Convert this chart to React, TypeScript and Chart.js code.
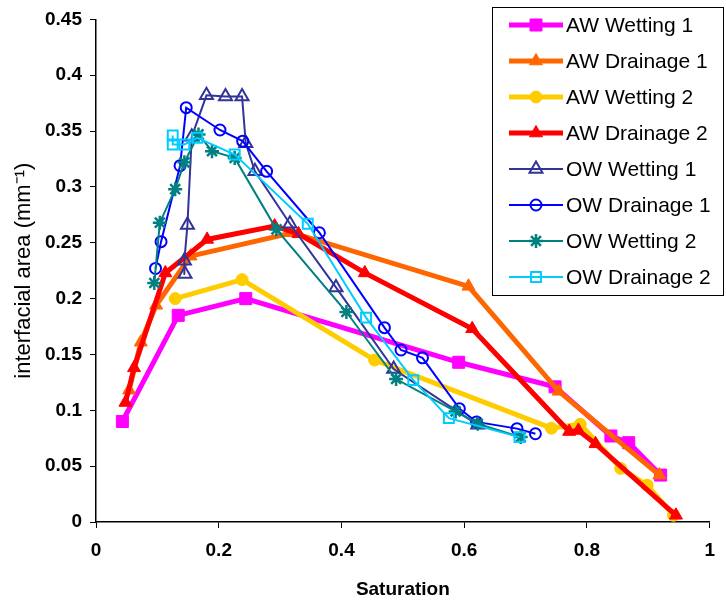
import React, { useEffect, useRef } from 'react';
import { Chart, registerables } from 'chart.js';
import { drawPoint } from 'chart.js/helpers';

Chart.register(...registerables);

// ---- Data (saturation, interfacial area in mm^-1) ----
const SERIES_NAMES = [
  'AW Wetting 1',
  'AW Drainage 1',
  'AW Wetting 2',
  'AW Drainage 2',
  'OW Wetting 1',
  'OW Drainage 1',
  'OW Wetting 2',
  'OW Drainage 2',
];

const awWetting1Sat = [0.043, 0.134, 0.244, 0.591, 0.748, 0.839, 0.868, 0.92];
const awWetting1Area = [0.09, 0.185, 0.2, 0.143, 0.121, 0.077, 0.071, 0.042];

const awDrainage1Sat = [0.054, 0.073, 0.098, 0.154, 0.32, 0.607, 0.754, 0.918];
const awDrainage1Area = [0.118, 0.161, 0.194, 0.238, 0.259, 0.211, 0.117, 0.042];

const awWetting2Sat = [0.129, 0.238, 0.454, 0.742, 0.789, 0.855, 0.898, 0.941];
const awWetting2Area = [0.2, 0.217, 0.145, 0.084, 0.0875, 0.048, 0.033, 0.006];

const awDrainage2Sat = [0.048, 0.062, 0.113, 0.181, 0.291, 0.33, 0.438, 0.613, 0.771, 0.786, 0.814, 0.945];
const awDrainage2Area = [0.107, 0.138, 0.223, 0.253, 0.265, 0.258, 0.223, 0.173, 0.081, 0.082, 0.07, 0.006];

const owWetting1Sat = [0.145, 0.144, 0.149, 0.156, 0.18, 0.211, 0.238, 0.244, 0.259, 0.316, 0.391, 0.485, 0.622];
const owWetting1Area = [0.222, 0.234, 0.266, 0.345, 0.382, 0.381, 0.381, 0.339, 0.314, 0.267, 0.21, 0.137, 0.087];

const owDrainage1Sat = [0.097, 0.106, 0.137, 0.147, 0.202, 0.239, 0.278, 0.364, 0.47, 0.497, 0.532, 0.592, 0.62, 0.686, 0.716];
const owDrainage1Area = [0.227, 0.251, 0.319, 0.371, 0.351, 0.341, 0.314, 0.259, 0.174, 0.154, 0.147, 0.1015, 0.0896, 0.0836, 0.079];

const owWetting2Sat = [0.095, 0.104, 0.129, 0.144, 0.167, 0.189, 0.226, 0.294, 0.408, 0.489, 0.586, 0.622, 0.692];
const owWetting2Area = [0.214, 0.268, 0.298, 0.322, 0.347, 0.332, 0.326, 0.262, 0.188, 0.128, 0.099, 0.088, 0.076];

const owDrainage2Sat = [0.125, 0.125, 0.144, 0.165, 0.226, 0.345, 0.44, 0.517, 0.575, 0.69];
const owDrainage2Area = [0.346, 0.338, 0.338, 0.344, 0.329, 0.267, 0.183, 0.127, 0.093, 0.076];

const X_TICKS = [0, 0.2, 0.4, 0.6, 0.8, 1];
const Y_TICKS = [0, 0.05, 0.1, 0.15, 0.2, 0.25, 0.3, 0.35, 0.4, 0.45];

const SAT = [awWetting1Sat, awDrainage1Sat, awWetting2Sat, awDrainage2Sat, owWetting1Sat, owDrainage1Sat, owWetting2Sat, owDrainage2Sat];
const AREA = [awWetting1Area, awDrainage1Area, awWetting2Area, awDrainage2Area, owWetting1Area, owDrainage1Area, owWetting2Area, owDrainage2Area];

// ---- Styles ----
const STYLES = [
  { color: '#FF00FF', width: 5, style: 'rect', r: 8.5, filled: true, pw: 1 },
  { color: '#FF6600', width: 5, style: 'triangle', r: 7.5, filled: true, pw: 1 },
  { color: '#FFCC00', width: 5, style: 'circle', r: 6, filled: true, pw: 1 },
  { color: '#FF0000', width: 5, style: 'triangle', r: 7.5, filled: true, pw: 1 },
  { color: '#333399', width: 2, style: 'triangle', r: 7.5, filled: false, pw: 2 },
  { color: '#0000FF', width: 2, style: 'circle', r: 5.5, filled: false, pw: 2 },
  { color: '#008080', width: 2, style: 'star', r: 7, filled: false, pw: 2.5 },
  { color: '#00CCFF', width: 2, style: 'rect', r: 7, filled: false, pw: 2 },
];

const FONT = '"Liberation Sans", Arial, Helvetica, sans-serif';

const legendPlugin = {
  id: 'boxLegend',
  afterDraw(chart: any) {
    const ctx = chart.ctx as CanvasRenderingContext2D;
    ctx.save();
    ctx.fillStyle = '#ffffff';
    ctx.fillRect(492, 7, 232, 288);
    ctx.strokeStyle = '#000000';
    ctx.lineWidth = 1;
    ctx.strokeRect(492.5, 7.5, 231, 288);
    chart.data.datasets.forEach((ds: any, i: number) => {
      const y = 25 + i * 36;
      ctx.strokeStyle = ds.borderColor;
      ctx.lineWidth = ds.borderWidth;
      ctx.beginPath();
      ctx.moveTo(509, y);
      ctx.lineTo(563, y);
      ctx.stroke();
      ctx.fillStyle = ds.pointBackgroundColor;
      ctx.strokeStyle = ds.pointBorderColor;
      ctx.lineWidth = ds.pointBorderWidth;
      drawPoint(ctx, { pointStyle: ds.pointStyle, radius: ds.pointRadius, rotation: 0, borderWidth: ds.pointBorderWidth } as any, 536, y);
      ctx.fillStyle = '#000000';
      ctx.font = `21px ${FONT}`;
      ctx.textBaseline = 'middle';
      ctx.textAlign = 'left';
      ctx.fillText(ds.label, 566, y + 1);
    });
    ctx.restore();
  },
};

export default function App() {
  const canvasRef = useRef<HTMLCanvasElement | null>(null);

  useEffect(() => {
    const canvas = canvasRef.current;
    if (!canvas) return;
    const n = SERIES_NAMES.length;
    const datasets = SERIES_NAMES.map((name, i) => {
      const s = STYLES[i];
      return {
        label: name,
        data: SAT[i].map((x, k) => ({ x, y: AREA[i][k] })),
        borderColor: s.color,
        backgroundColor: s.color,
        borderWidth: s.width,
        pointStyle: s.style,
        pointRadius: s.r,
        pointHoverRadius: s.r,
        pointBackgroundColor: s.filled ? s.color : 'rgba(0,0,0,0)',
        pointBorderColor: s.color,
        pointBorderWidth: s.pw,
        tension: 0,
        fill: false,
        order: n - 1 - i,
      };
    });

    const chart = new Chart(canvas, {
      type: 'line',
      data: { datasets },
      options: {
        responsive: false,
        animation: false,
        devicePixelRatio: 1,
        layout: { padding: { top: 17, right: 11, left: 0, bottom: 0 } },
        plugins: {
          legend: { display: false },
          tooltip: { enabled: false },
        },
        scales: {
          x: {
            type: 'linear',
            min: 0,
            max: 1,
            afterFit: (scale: any) => {
              scale.height = 79;
            },
            afterBuildTicks: (scale: any) => {
              scale.ticks = X_TICKS.map((v) => ({ value: v }));
            },
            ticks: {
              color: '#000',
              font: { family: FONT, size: 19, weight: 'bold' },
              padding: 11,
              maxRotation: 0,
              callback: (v: any) => String(Math.round(Number(v) * 100) / 100),
            },
            grid: { display: true, drawOnChartArea: false, drawTicks: true, tickLength: 6, color: '#000', lineWidth: 1 },
            border: { display: true, color: '#000', width: 1.5 },
            title: {
              display: true,
              text: 'Saturation',
              color: '#000',
              font: { family: FONT, size: 19, weight: 'bold' },
              padding: { top: 0, bottom: 0 },
            },
          },
          y: {
            type: 'linear',
            min: 0,
            max: 0.45,
            afterFit: (scale: any) => {
              scale.width = 96;
            },
            afterBuildTicks: (scale: any) => {
              scale.ticks = Y_TICKS.map((v) => ({ value: v }));
            },
            ticks: {
              color: '#000',
              font: { family: FONT, size: 19, weight: 'bold' },
              padding: 8,
              callback: (v: any) => String(Math.round(Number(v) * 100) / 100),
            },
            grid: { display: true, drawOnChartArea: false, drawTicks: true, tickLength: 6, color: '#000', lineWidth: 1 },
            border: { display: true, color: '#000', width: 1.5 },
            title: {
              display: true,
              text: 'interfacial area (mm\u207B\u00B9)',
              color: '#000',
              font: { family: FONT, size: 22, weight: 'normal' },
              padding: { top: 11, bottom: 0 },
            },
          },
        },
      },
      plugins: [legendPlugin],
    } as any);

    return () => {
      chart.destroy();
    };
  }, []);

  return (
    <div style={{ position: 'absolute', left: 0, top: 0, width: 726, height: 601, background: '#fff' }}>
      <canvas ref={canvasRef} width={726} height={601} style={{ display: 'block' }} />
    </div>
  );
}
